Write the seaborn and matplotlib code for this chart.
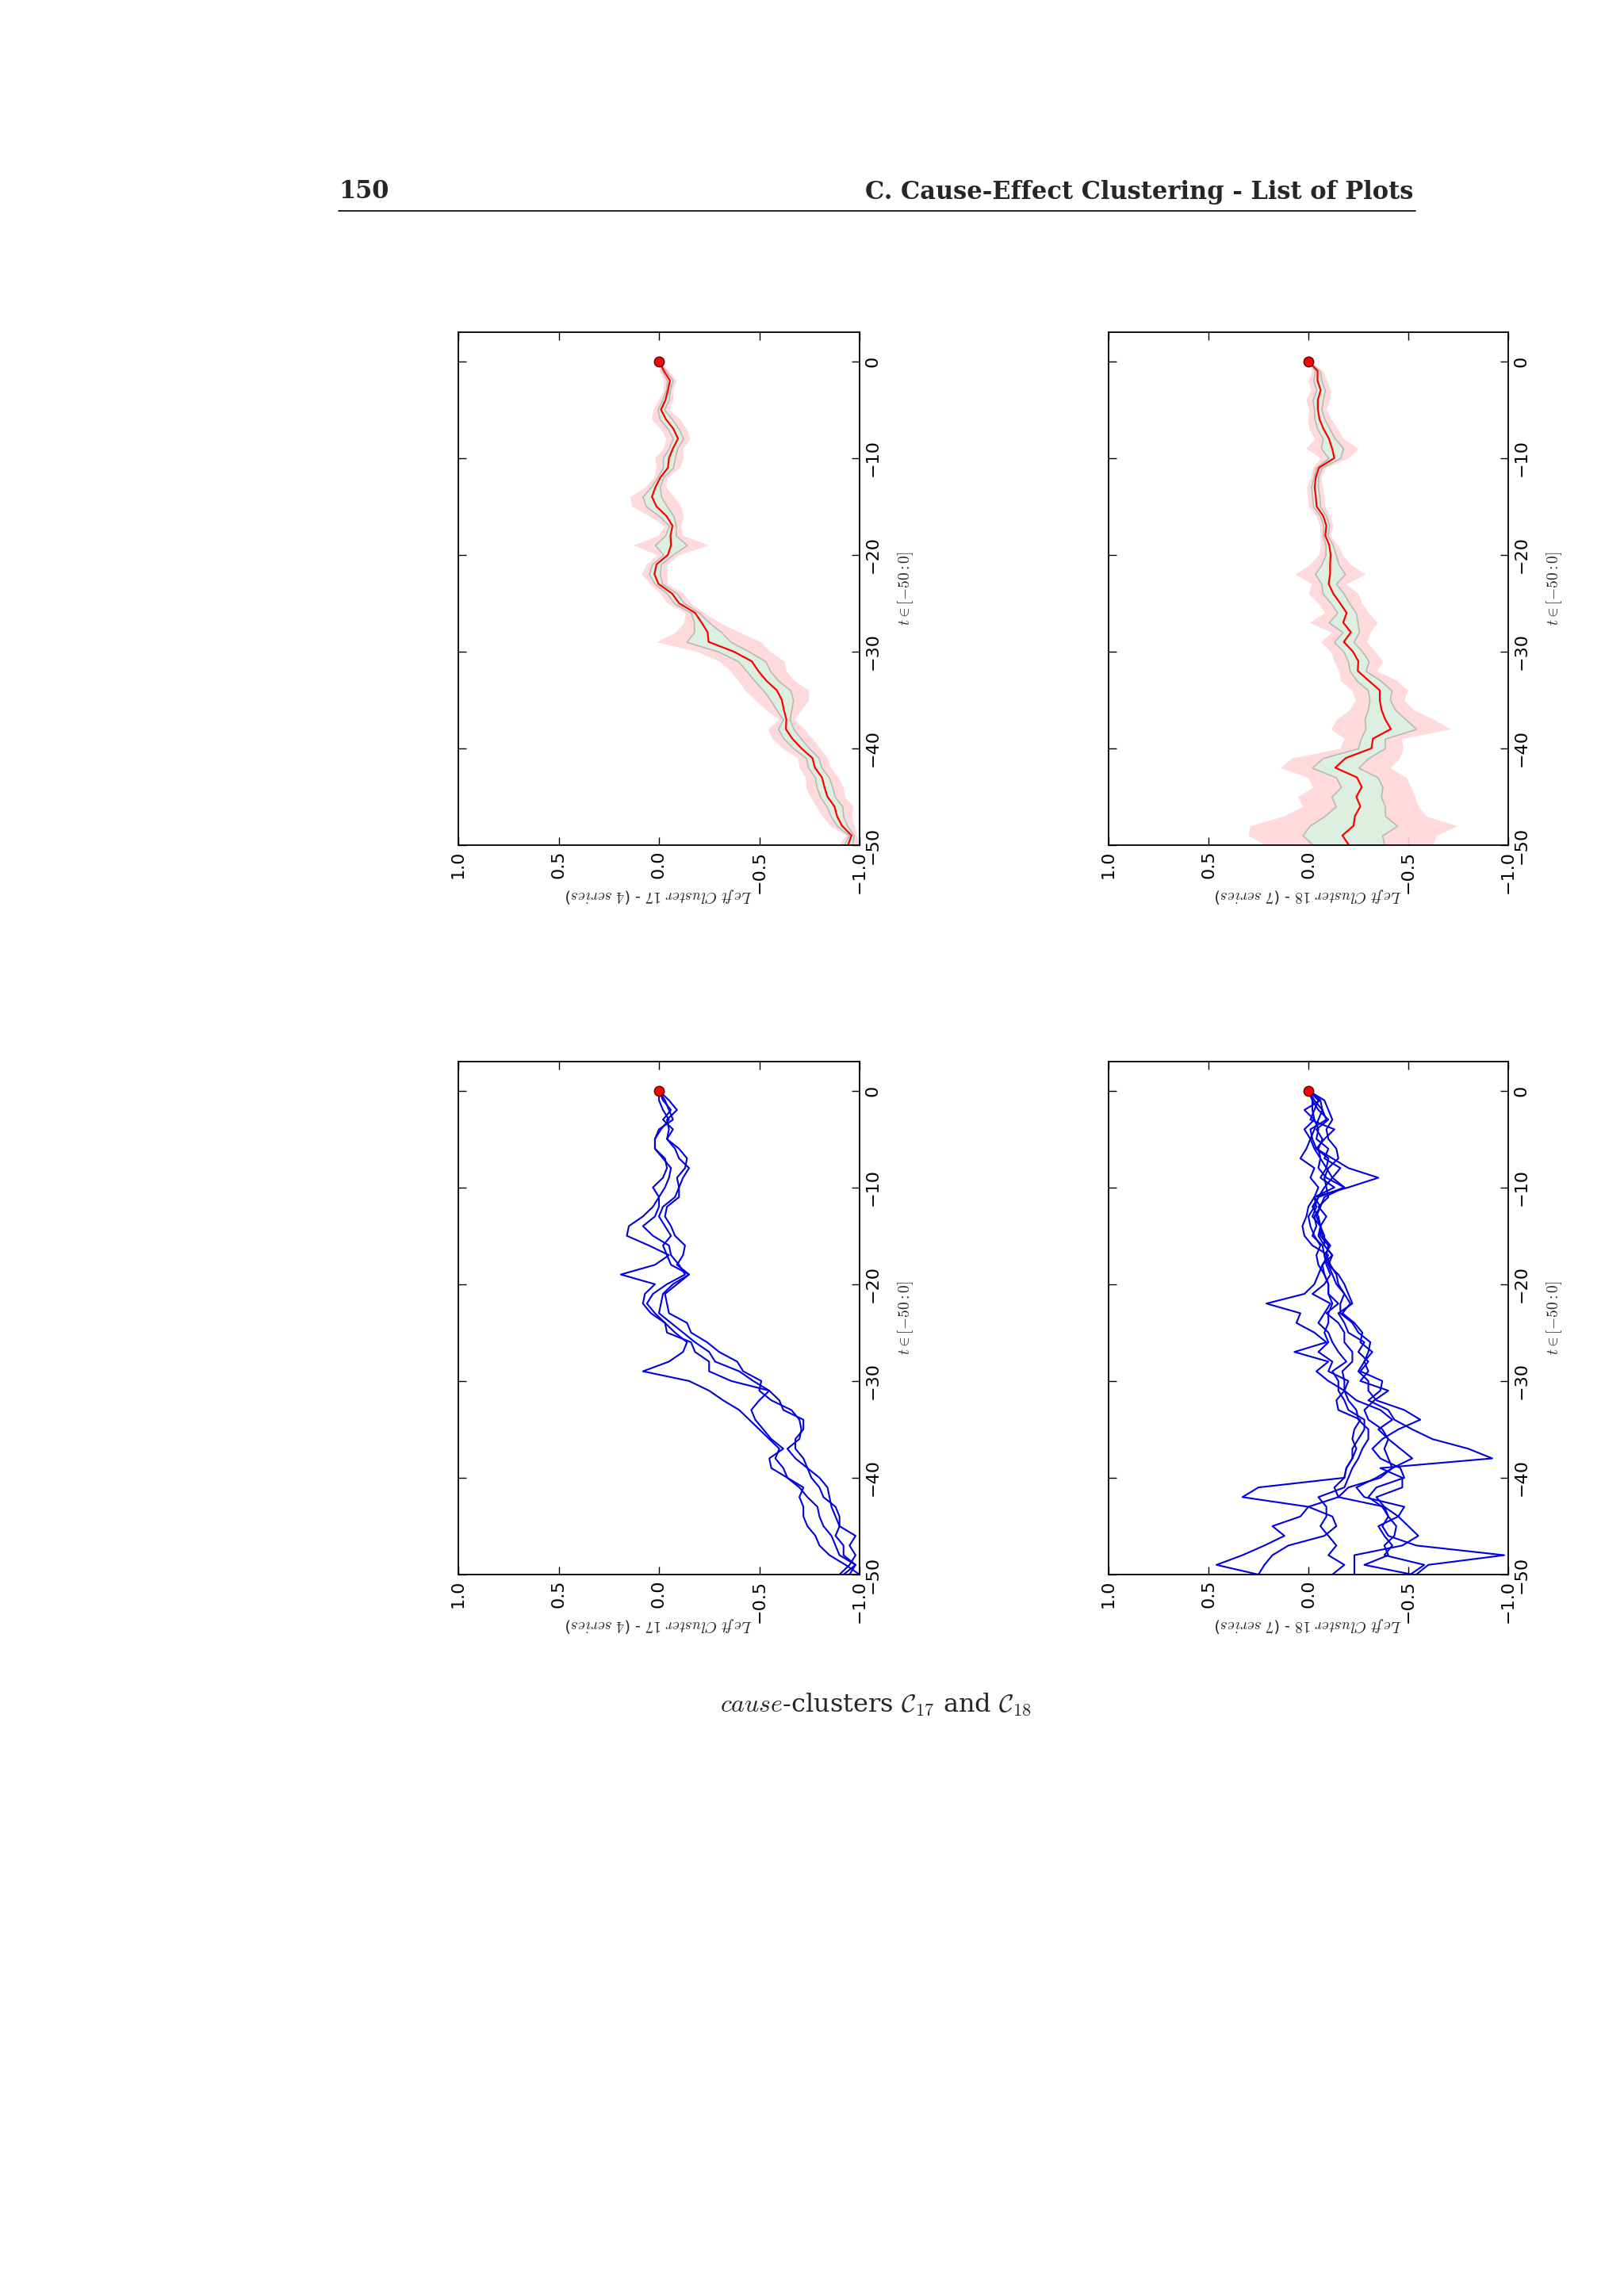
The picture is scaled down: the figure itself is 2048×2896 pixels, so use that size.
import numpy as np
import pandas as pd
import matplotlib
matplotlib.use("Agg")
import matplotlib.pyplot as plt
import seaborn as sns

t = list(range(-50, 1))
tick_t = [0, -10, -20, -30, -40, -50]
tick_v = [1.0, 0.5, 0.0, -0.5, -1.0]

c17_s1 = [-0.92,-0.98,-0.90,-0.88,-0.86,-0.82,-0.80,-0.79,-0.74,-0.70,
          -0.64,-0.62,-0.58,-0.60,-0.55,-0.50,-0.45,-0.40,-0.32,-0.25,
          -0.15,0.08,-0.05,-0.12,-0.14,-0.08,-0.03,0.04,0.08,0.07,
          0.02,0.19,0.02,-0.05,0.05,0.16,0.15,0.08,0.03,0.00,
          0.03,-0.02,-0.04,-0.03,0.02,0.02,-0.01,-0.05,-0.02,0.00,0.0]
c17_s2 = [-1.00,-0.93,-0.85,-0.80,-0.78,-0.74,-0.72,-0.72,-0.70,-0.72,
          -0.64,-0.56,-0.55,-0.62,-0.56,-0.52,-0.48,-0.46,-0.50,-0.55,
          -0.36,-0.25,-0.25,-0.18,-0.16,-0.04,-0.03,0.02,0.06,0.03,
          -0.04,-0.13,-0.10,-0.06,-0.05,0.03,0.08,0.02,0.00,0.00,
          -0.03,-0.05,-0.06,-0.02,0.02,0.02,0.00,-0.07,-0.05,-0.03,0.0]
c17_s3 = [-0.95,-0.98,-0.92,-0.92,-0.88,-0.90,-0.90,-0.88,-0.82,-0.80,
          -0.76,-0.74,-0.72,-0.68,-0.68,-0.72,-0.72,-0.62,-0.60,-0.55,
          -0.47,-0.40,-0.28,-0.25,-0.18,-0.12,-0.06,0.00,-0.01,-0.02,
          -0.07,-0.15,-0.06,-0.04,-0.02,-0.06,-0.03,0.00,-0.02,-0.08,
          -0.10,-0.12,-0.15,-0.10,-0.08,-0.04,-0.07,-0.02,-0.06,-0.02,0.0]
c17_s4 = [-0.90,-0.95,-0.98,-0.95,-0.98,-0.90,-0.88,-0.86,-0.85,-0.84,
          -0.80,-0.74,-0.68,-0.64,-0.70,-0.71,-0.70,-0.66,-0.56,-0.50,
          -0.51,-0.42,-0.39,-0.30,-0.24,-0.16,-0.14,-0.05,-0.04,-0.03,
          -0.09,-0.15,-0.09,-0.12,-0.13,-0.08,-0.06,-0.03,-0.04,-0.10,
          -0.10,-0.09,-0.13,-0.14,-0.10,-0.04,-0.05,-0.04,-0.09,-0.05,0.0]

c18_s1 = [0.25,0.46,0.33,0.22,0.12,0.18,0.04,0.00,0.33,0.25,
          -0.18,-0.19,-0.22,-0.24,-0.22,-0.23,-0.26,-0.15,-0.14,-0.18,
          -0.10,-0.04,-0.10,0.07,-0.09,-0.03,0.06,0.04,0.21,0.02,
          -0.03,-0.05,-0.07,-0.10,-0.02,0.02,0.03,0.01,0.00,-0.03,
          -0.05,-0.01,-0.03,0.04,0.01,-0.01,0.02,-0.03,0.02,-0.06,0.0]
c18_s2 = [-0.12,-0.18,-0.10,-0.14,-0.10,-0.06,-0.09,-0.09,-0.05,-0.18,
          -0.20,-0.22,-0.25,-0.27,-0.30,-0.30,-0.25,-0.24,-0.20,-0.18,
          -0.20,-0.10,-0.12,-0.05,-0.10,-0.08,-0.10,-0.10,-0.12,-0.10,
          -0.10,-0.08,-0.05,-0.04,-0.06,-0.03,-0.01,0.00,-0.03,-0.05,
          -0.08,-0.12,-0.09,-0.06,-0.05,-0.07,-0.04,-0.10,-0.05,-0.02,0.0]
c18_s3 = [-0.23,-0.23,-0.23,-0.47,-0.55,-0.50,-0.45,-0.48,-0.28,-0.24,
          -0.34,-0.42,-0.52,-0.46,-0.40,-0.35,-0.42,-0.36,-0.24,-0.18,
          -0.18,-0.17,-0.22,-0.22,-0.18,-0.18,-0.15,-0.09,-0.15,-0.10,
          -0.10,-0.08,-0.07,-0.12,-0.08,-0.05,-0.06,-0.05,-0.02,-0.05,
          -0.18,-0.09,-0.05,-0.06,-0.03,-0.01,-0.03,-0.05,-0.07,-0.03,0.0]
c18_s4 = [-0.54,-0.60,-0.98,-0.54,-0.40,-0.37,-0.40,-0.38,-0.34,-0.47,
          -0.47,-0.36,-0.92,-0.80,-0.62,-0.52,-0.43,-0.40,-0.30,-0.36,
          -0.37,-0.26,-0.30,-0.25,-0.28,-0.20,-0.18,-0.15,-0.22,-0.20,
          -0.18,-0.15,-0.10,-0.12,-0.08,-0.08,-0.06,-0.04,-0.06,-0.08,
          -0.18,-0.12,-0.16,-0.08,-0.10,-0.04,-0.05,-0.03,-0.02,-0.02,0.0]
c18_s5 = [-0.52,-0.28,-0.40,-0.38,-0.43,-0.44,-0.40,-0.37,-0.30,-0.34,
          -0.48,-0.46,-0.36,-0.32,-0.37,-0.45,-0.56,-0.48,-0.34,-0.30,
          -0.30,-0.25,-0.28,-0.32,-0.26,-0.27,-0.23,-0.17,-0.21,-0.18,
          -0.14,-0.12,-0.10,-0.08,-0.11,-0.07,-0.06,-0.02,-0.04,-0.03,
          -0.20,-0.35,-0.20,-0.12,-0.04,-0.02,-0.01,-0.09,-0.07,-0.06,0.0]
c18_s6 = [0.25,0.22,0.18,0.10,-0.08,-0.14,-0.12,0.00,-0.15,-0.13,
          -0.18,-0.19,-0.22,-0.22,-0.25,-0.28,-0.28,-0.20,-0.18,-0.15,
          -0.15,-0.12,-0.19,-0.15,-0.12,-0.10,-0.05,-0.08,-0.11,-0.02,
          -0.08,-0.11,-0.09,-0.08,-0.07,-0.02,-0.04,-0.03,-0.06,-0.03,
          -0.13,-0.06,-0.09,-0.10,-0.04,-0.08,-0.13,-0.01,-0.03,-0.05,0.0]
c18_s7 = [-0.51,-0.58,-0.38,-0.42,-0.38,-0.35,-0.45,-0.38,-0.15,-0.20,
          -0.36,-0.42,-0.40,-0.38,-0.40,-0.37,-0.30,-0.28,-0.33,-0.40,
          -0.26,-0.30,-0.28,-0.30,-0.31,-0.25,-0.22,-0.16,-0.16,-0.18,
          -0.15,-0.14,-0.11,-0.09,-0.10,-0.06,-0.06,-0.09,-0.05,-0.10,
          -0.09,-0.08,-0.10,-0.15,-0.14,-0.10,-0.09,-0.12,-0.10,-0.08,0.0]

clusters = {
    17: [c17_s1, c17_s2, c17_s3, c17_s4],
    18: [c18_s1, c18_s2, c18_s3, c18_s4, c18_s5, c18_s6, c18_s7],
}

sns.set_theme(style="white")
plt.rcParams["mathtext.fontset"] = "cm"
plt.rcParams["font.family"] = ["DejaVu Sans"]

W, H = 2048, 2896
fig = plt.figure(figsize=(W / 100, H / 100), dpi=100)
fig.patch.set_facecolor("white")

def rect(x0, x1, y0, y1):
    return [x0 / W, 1 - y1 / H, (x1 - x0) / W, (y1 - y0) / H]

cols = {17: (578, 1084), 18: (1398, 1902)}
rows = {"mean": (419, 1066), "raw": (1339, 1986)}

def style(ax, cid, n):
    ax.set_xlim(1.0, -1.0)
    ax.set_ylim(-50, 3)
    ax.set_xticks(tick_v)
    ax.set_yticks(tick_t)
    ax.tick_params(direction="in", length=7, width=1, top=True, bottom=True,
                   left=True, right=True, labelleft=False, labelright=True,
                   labelsize=16, colors="black", pad=5)
    for lab in ax.get_xticklabels():
        lab.set_rotation(90)
    for lab in ax.get_yticklabels():
        lab.set_rotation(90)
        lab.set_verticalalignment("center")
    for s in ax.spines.values():
        s.set_color("black")
        s.set_linewidth(1.3)
    ax.set_xlabel("")
    ax.set_ylabel("")
    ax.text(1.115, 0.5, r"$t\in[-50{:}0]$", transform=ax.transAxes, rotation=90,
            ha="center", va="center", fontsize=14)
    ax.text(0.5, -0.098, r"$Left\ Cluster\ %d$ - ($%d\ series$)" % (cid, n),
            transform=ax.transAxes, rotation=180, ha="center", va="center",
            fontsize=14)

for cid, series in clusters.items():
    arr = np.array(series)
    n = arr.shape[0]
    mean = arr.mean(axis=0)
    sd = arr.std(axis=0)
    ax = fig.add_axes(rect(*cols[cid], *rows["mean"]))
    ax.fill_betweenx(t, mean - 1.3 * sd, mean + 1.3 * sd, color="#ffd6da",
                     alpha=0.9, lw=0)
    ax.fill_betweenx(t, mean - 0.55 * sd, mean + 0.55 * sd, color="#dcefe0",
                     edgecolor="#b8b8b8", lw=1.2)
    dfm = pd.DataFrame({"t": t, "v": mean})
    sns.lineplot(data=dfm, x="v", y="t", orient="y", sort=False, ax=ax,
                 color="red", lw=1.6, estimator=None)
    ax.plot([mean[-1]], [t[-1]], "o", color="red", mec="#600000", ms=9, zorder=5)
    style(ax, cid, n)
    ax = fig.add_axes(rect(*cols[cid], *rows["raw"]))
    rows_df = []
    for i, s in enumerate(series):
        for tt, v in zip(t, s):
            rows_df.append((i, tt, v))
    df = pd.DataFrame(rows_df, columns=["series", "t", "v"])
    sns.lineplot(data=df, x="v", y="t", units="series", estimator=None,
                 orient="y", sort=False, ax=ax, color="#0000dd", lw=1.5)
    ax.plot([0.0], [0], "o", color="red", mec="#600000", ms=9, zorder=5)
    style(ax, cid, n)

fig.text(427 / W, 1 - 242 / H, "150", fontsize=22, fontweight="bold",
         family="DejaVu Serif", ha="left", va="center")
fig.text(1782 / W, 1 - 242 / H, "C. Cause-Effect Clustering - List of Plots",
         fontsize=22, fontweight="bold", family="DejaVu Serif", ha="right",
         va="center")
fig.add_artist(plt.Line2D([427 / W, 1785 / W], [1 - 266 / H, 1 - 266 / H],
                          color="black", lw=1.2))
fig.text(1105 / W, 1 - 2150 / H,
         r"$\mathit{cause}$-clusters $\mathcal{C}_{17}$ and $\mathcal{C}_{18}$",
         fontsize=23, family="DejaVu Serif", ha="center", va="center")

fig.savefig("out.png", dpi=100, facecolor="white")
